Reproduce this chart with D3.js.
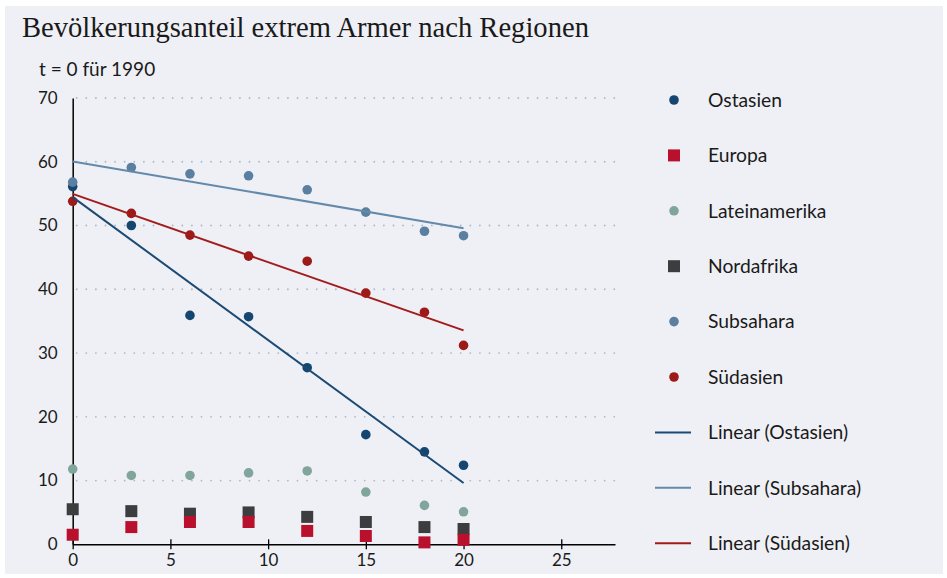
<!DOCTYPE html>
<html><head><meta charset="utf-8">
<script src="https://cdn.jsdelivr.net/npm/d3@7"></script>
<style>
html,body{margin:0;padding:0;background:#ffffff;}
svg{display:block;}
</style></head>
<body>
<svg id="chart" width="947" height="578"></svg>
<script>
const title = "Bevölkerungsanteil extrem Armer nach Regionen";
const subtitle = "t = 0 für 1990";
const tYears = [0, 3, 6, 9, 12, 15, 18, 20];
const ostasien = [56.1, 50.0, 35.9, 35.7, 27.7, 17.2, 14.5, 12.4];
const europa = [1.5, 2.7, 3.5, 3.5, 2.1, 1.3, 0.3, 0.7];
const lateinamerika = [11.8, 10.8, 10.8, 11.2, 11.5, 8.2, 6.1, 5.1];
const nordafrika = [5.5, 5.2, 4.8, 5.0, 4.3, 3.5, 2.7, 2.4];
const subsahara = [56.8, 59.1, 58.1, 57.8, 55.6, 52.1, 49.1, 48.4];
const suedasien = [53.8, 51.9, 48.5, 45.2, 44.4, 39.4, 36.4, 31.2];
const yTicks = [0, 10, 20, 30, 40, 50, 60, 70];
const xTicks = [0, 5, 10, 15, 20, 25];

const series = [
  {name:"Ostasien", values:ostasien, shape:"circle", color:"#15466f", r:4.8},
  {name:"Europa", values:europa, shape:"square", color:"#b8102d", s:12},
  {name:"Lateinamerika", values:lateinamerika, shape:"circle", color:"#80a69b", r:4.8},
  {name:"Nordafrika", values:nordafrika, shape:"square", color:"#3d3d3f", s:12},
  {name:"Subsahara", values:subsahara, shape:"circle", color:"#5a7fa0", r:4.8},
  {name:"Südasien", values:suedasien, shape:"circle", color:"#9c1a18", r:4.8}
];
const trends = [
  {name:"Linear (Ostasien)", values:ostasien, color:"#1b4a74"},
  {name:"Linear (Subsahara)", values:subsahara, color:"#6389ab"},
  {name:"Linear (Südasien)", values:suedasien, color:"#a21c1b"}
];

const svg = d3.select("#chart");
const sans = "Lato, 'Open Sans', sans-serif";

svg.append("rect").attr("x",5).attr("y",6).attr("width",938).attr("height",568).attr("fill","#eff0f5");

svg.append("text").attr("x",22).attr("y",37).attr("font-family","'Liberation Serif', serif")
  .attr("font-size",28.6).attr("fill","#1a1a1a").text(title);
svg.append("text").attr("x",39).attr("y",76).attr("font-family",sans)
  .attr("font-size",19).attr("fill","#1a1a1a").text(subtitle);

const x = d3.scaleLinear().domain([0, 27.75]).range([72.7, 615]);
const y = d3.scaleLinear().domain([0, 70]).range([544.3, 98]);

// grid
const grid = svg.append("g");
yTicks.filter(d=>d>0).forEach(t=>{
  grid.append("line").attr("x1",x(0)+4).attr("x2",x(27.75)).attr("y1",y(t)).attr("y2",y(t))
    .attr("stroke","#a9b8ca").attr("stroke-width",1.8).attr("stroke-dasharray","0,9.6")
    .attr("stroke-linecap","round");
});

// y axis
const yAxis = d3.axisLeft(y).tickValues(yTicks).tickSize(0).tickPadding(15);
const gy = svg.append("g").attr("transform",`translate(${x(0)},0)`).call(yAxis);
gy.select(".domain").attr("stroke","#000").attr("stroke-width",1.5);
gy.selectAll("text").attr("font-family",sans).attr("font-size",17).attr("fill","#1a1a1a");

// x axis
const xAxis = d3.axisBottom(x).tickValues(xTicks).tickSizeInner(5).tickSizeOuter(0).tickPadding(5);
const gx = svg.append("g").attr("transform",`translate(0,${y(0)})`).call(xAxis);
gx.select(".domain").attr("stroke","#000").attr("stroke-width",1.5);
gx.selectAll(".tick line").attr("stroke","#000").attr("stroke-width",1.3).attr("y1",-5);
gx.selectAll("text").attr("font-family",sans).attr("font-size",17).attr("fill","#1a1a1a");

// points (draw Nordafrika before Europa so red sits on top)
const drawOrder = [0,2,3,1,4,5];
drawOrder.forEach(i=>{
  const s = series[i];
  const g = svg.append("g");
  s.values.forEach((v,j)=>{
    if(s.shape==="circle"){
      g.append("circle").attr("cx",x(tYears[j])).attr("cy",y(v)).attr("r",s.r).attr("fill",s.color);
    } else {
      g.append("rect").attr("x",x(tYears[j])-s.s/2).attr("y",y(v)-s.s/2)
        .attr("width",s.s).attr("height",s.s).attr("fill",s.color);
    }
  });
});

// linear trends (least squares)
function fit(vals){
  const n = vals.length;
  const mt = d3.mean(tYears), mv = d3.mean(vals);
  let sxy=0, sxx=0;
  for(let i=0;i<n;i++){ sxy += (tYears[i]-mt)*(vals[i]-mv); sxx += (tYears[i]-mt)**2; }
  const b = sxy/sxx; const a = mv - b*mt;
  return t=>a+b*t;
}
trends.forEach(tr=>{
  const f = fit(tr.values);
  const t0 = d3.min(tYears), t1 = d3.max(tYears);
  svg.append("line").attr("x1",x(t0)).attr("y1",y(f(t0))).attr("x2",x(t1)).attr("y2",y(f(t1)))
    .attr("stroke",tr.color).attr("stroke-width",2);
});

// legend
const legItems = series.map(s=>({type:"mark", s:s})).concat(trends.map(t=>({type:"line", s:t})));
const leg = svg.append("g");
legItems.forEach((it,i)=>{
  const cy = 100 + i*55.4;
  if(it.type==="mark"){
    if(it.s.shape==="circle"){
      leg.append("circle").attr("cx",674).attr("cy",cy).attr("r",it.s.r).attr("fill",it.s.color);
    } else {
      leg.append("rect").attr("x",674-6).attr("y",cy-6).attr("width",12).attr("height",12).attr("fill",it.s.color);
    }
  } else {
    leg.append("line").attr("x1",655).attr("x2",691).attr("y1",cy).attr("y2",cy)
      .attr("stroke",it.s.color).attr("stroke-width",2);
  }
  leg.append("text").attr("x",708).attr("y",cy).attr("dy","0.35em").attr("font-family",sans)
    .attr("font-size",19.3).attr("fill","#1a1a1a").text(it.s.name);
});
</script>
</body></html>
